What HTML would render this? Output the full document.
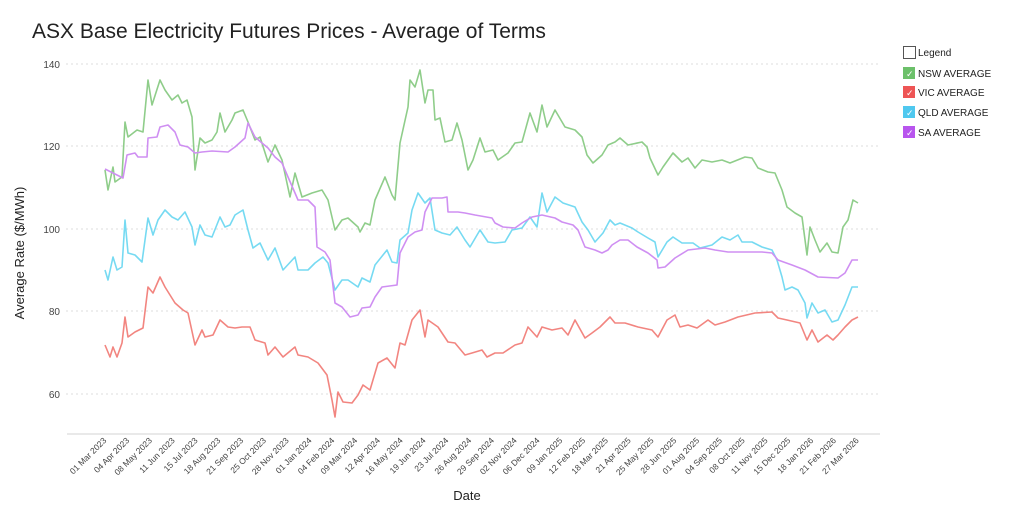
<!DOCTYPE html>
<html><head><meta charset="utf-8"><style>
body{margin:0;background:#fff;}
svg{display:block;font-family:"Liberation Sans",sans-serif;}
</style></head><body>
<svg width="1024" height="508" viewBox="0 0 1024 508">
<text x="32" y="38" font-size="21" fill="#222">ASX Base Electricity Futures Prices - Average of Terms</text>
<g stroke="#ddd" stroke-dasharray="2,3" stroke-width="1">
<line x1="66" x2="880" y1="64" y2="64"/><line x1="66" x2="880" y1="146" y2="146"/>
<line x1="66" x2="880" y1="229" y2="229"/><line x1="66" x2="880" y1="311" y2="311"/>
<line x1="66" x2="880" y1="394" y2="394"/>
</g>
<line x1="67" x2="880" y1="434" y2="434" stroke="#e2e2e2" stroke-width="1.5"/>
<g font-size="10" fill="#444" text-anchor="end">
<text x="60" y="68">140</text><text x="60" y="150">120</text><text x="60" y="233">100</text><text x="60" y="315">80</text><text x="60" y="398">60</text>
</g>
<text transform="translate(24,253) rotate(-90)" font-size="13" text-anchor="middle" fill="#222">Average Rate ($/MWh)</text>
<text x="467" y="500" font-size="13" text-anchor="middle" fill="#222">Date</text>
<g fill="none" stroke-width="1.6" stroke-linejoin="round" opacity="0.85">
<polyline stroke="#7cc576" points="105,170 108,190 113,167 115,182 122,177 125,122 128,137 137,130 143,132 148,80 152,105 160,80 165,90 172,100 178,95 182,103 187,100 192,117 195,170 200,138 205,143 212,140 217,132 220,113 225,132 232,120 235,113 243,110 248,122 255,140 260,137 268,162 275,145 282,160 290,197 295,173 302,197 312,193 322,190 328,200 335,230 342,220 348,218 358,227 360,232 365,223 370,225 375,200 385,177 392,195 395,200 400,143 408,107 410,80 415,87 420,70 425,103 428,90 433,90 435,120 440,118 445,142 452,140 457,123 462,140 468,170 473,160 480,138 485,152 493,150 498,160 508,153 515,143 522,142 530,113 537,132 542,105 547,127 555,110 565,127 575,130 582,137 587,155 593,163 602,155 608,145 615,142 620,138 628,145 642,142 647,147 650,158 658,175 663,167 673,153 682,162 688,158 695,168 702,160 712,162 722,160 730,163 745,157 752,158 758,168 768,172 775,173 782,190 787,207 795,213 802,217 807,255 810,227 815,240 820,252 827,243 832,252 838,253 843,227 848,220 853,200 858,203"/>
<polyline stroke="#f0706a" points="105,345 110,357 113,347 117,357 122,343 125,317 128,337 135,332 143,328 148,287 153,293 160,277 165,287 175,303 183,310 188,313 195,345 202,330 205,337 213,335 220,320 228,327 235,328 242,327 250,327 255,340 265,343 268,355 275,347 283,357 295,347 298,355 308,357 318,363 327,375 332,400 335,417 338,392 343,402 352,403 358,395 363,385 370,390 378,363 387,358 395,368 400,343 405,345 412,320 420,310 425,337 428,320 438,327 448,342 455,343 465,355 472,353 482,350 487,357 495,353 503,353 515,345 522,343 528,327 537,337 542,327 552,330 562,328 568,335 575,320 585,338 592,333 600,327 610,317 615,323 625,323 638,327 652,330 658,337 667,320 675,315 680,327 688,325 697,328 708,320 715,325 725,322 738,317 755,313 772,312 778,318 787,320 800,323 807,340 812,330 818,342 827,335 833,340 838,335 845,327 852,320 858,317"/>
<polyline stroke="#5fd4f0" points="105,270 108,280 113,257 117,270 122,267 125,220 128,253 135,255 142,262 148,218 153,235 158,220 165,210 172,217 178,220 185,212 192,227 195,245 200,225 205,235 212,237 220,217 225,227 230,225 235,215 243,210 248,230 253,248 260,243 268,260 275,248 283,270 295,257 298,270 308,270 315,263 323,257 328,263 335,290 342,280 348,280 358,287 362,278 370,282 375,265 387,250 392,262 397,263 400,240 408,233 412,210 418,193 425,203 430,198 435,230 442,233 450,235 457,227 465,240 470,247 480,230 488,242 495,243 505,242 512,230 522,228 530,217 537,227 542,193 547,212 555,197 563,203 575,207 582,222 588,230 595,242 603,233 610,220 615,225 620,223 632,228 638,232 648,238 655,242 658,257 667,242 673,237 682,243 693,243 700,248 712,245 722,237 730,240 738,235 742,242 752,242 762,247 772,250 777,260 782,277 785,290 792,287 798,290 805,303 807,318 812,303 818,313 825,310 832,322 838,320 845,305 852,287 858,287"/>
<polyline stroke="#c77cf0" points="105,169 113,173 123,178 127,155 135,153 138,157 147,157 148,138 157,137 160,127 168,125 175,132 180,145 188,147 195,153 202,152 212,151 228,152 235,147 245,138 248,123 255,137 262,143 268,148 275,157 282,163 288,177 295,193 298,200 308,200 315,207 317,247 325,252 330,260 335,303 342,307 350,317 358,315 362,308 370,307 375,297 382,287 397,285 400,253 408,237 415,232 422,230 425,212 432,198 442,198 447,197 448,212 458,212 465,213 475,215 492,218 495,223 503,227 515,228 522,223 532,217 542,215 555,218 562,222 573,225 578,230 585,247 595,250 602,253 608,250 612,245 620,240 628,240 637,247 648,253 657,260 658,268 665,267 675,258 688,250 705,248 715,250 728,252 762,252 772,253 778,260 792,265 805,270 818,277 838,278 845,273 852,260 858,260"/>
</g>
<g font-size="10" fill="#222">
<rect x="903.5" y="46.5" width="12" height="12" fill="#fff" stroke="#555"/><text x="918" y="56">Legend</text>
<rect x="903" y="67" width="12" height="12" fill="#6cc06a"/><text x="906" y="77" fill="#fff" font-size="9">✓</text><text x="918" y="77">NSW AVERAGE</text>
<rect x="903" y="86" width="12" height="12" fill="#ee5555"/><text x="906" y="96" fill="#fff" font-size="9">✓</text><text x="918" y="96">VIC AVERAGE</text>
<rect x="903" y="106" width="12" height="12" fill="#4fc8ef"/><text x="906" y="116" fill="#fff" font-size="9">✓</text><text x="918" y="116">QLD AVERAGE</text>
<rect x="903" y="126" width="12" height="12" fill="#b855ee"/><text x="906" y="136" fill="#fff" font-size="9">✓</text><text x="918" y="136">SA AVERAGE</text>
</g>
<g font-size="8.5" fill="#444" text-anchor="end">
<text transform="translate(107,441) rotate(-45)">01 Mar 2023</text>
<text transform="translate(129.8,441) rotate(-45)">04 Apr 2023</text>
<text transform="translate(152.6,441) rotate(-45)">08 May 2023</text>
<text transform="translate(175.4,441) rotate(-45)">11 Jun 2023</text>
<text transform="translate(198.2,441) rotate(-45)">15 Jul 2023</text>
<text transform="translate(221,441) rotate(-45)">18 Aug 2023</text>
<text transform="translate(243.8,441) rotate(-45)">21 Sep 2023</text>
<text transform="translate(266.6,441) rotate(-45)">25 Oct 2023</text>
<text transform="translate(289.4,441) rotate(-45)">28 Nov 2023</text>
<text transform="translate(312.2,441) rotate(-45)">01 Jan 2024</text>
<text transform="translate(335,441) rotate(-45)">04 Feb 2024</text>
<text transform="translate(357.8,441) rotate(-45)">09 Mar 2024</text>
<text transform="translate(380.6,441) rotate(-45)">12 Apr 2024</text>
<text transform="translate(403.4,441) rotate(-45)">16 May 2024</text>
<text transform="translate(426.2,441) rotate(-45)">19 Jun 2024</text>
<text transform="translate(449,441) rotate(-45)">23 Jul 2024</text>
<text transform="translate(471.8,441) rotate(-45)">26 Aug 2024</text>
<text transform="translate(494.6,441) rotate(-45)">29 Sep 2024</text>
<text transform="translate(517.4,441) rotate(-45)">02 Nov 2024</text>
<text transform="translate(540.2,441) rotate(-45)">06 Dec 2024</text>
<text transform="translate(563,441) rotate(-45)">09 Jan 2025</text>
<text transform="translate(585.8,441) rotate(-45)">12 Feb 2025</text>
<text transform="translate(608.6,441) rotate(-45)">18 Mar 2025</text>
<text transform="translate(631.4,441) rotate(-45)">21 Apr 2025</text>
<text transform="translate(654.2,441) rotate(-45)">25 May 2025</text>
<text transform="translate(677,441) rotate(-45)">28 Jun 2025</text>
<text transform="translate(699.8,441) rotate(-45)">01 Aug 2025</text>
<text transform="translate(722.6,441) rotate(-45)">04 Sep 2025</text>
<text transform="translate(745.4,441) rotate(-45)">08 Oct 2025</text>
<text transform="translate(768.2,441) rotate(-45)">11 Nov 2025</text>
<text transform="translate(791,441) rotate(-45)">15 Dec 2025</text>
<text transform="translate(813.8,441) rotate(-45)">18 Jan 2026</text>
<text transform="translate(836.6,441) rotate(-45)">21 Feb 2026</text>
<text transform="translate(859.4,441) rotate(-45)">27 Mar 2026</text>
</g>
</svg>
</body></html>
